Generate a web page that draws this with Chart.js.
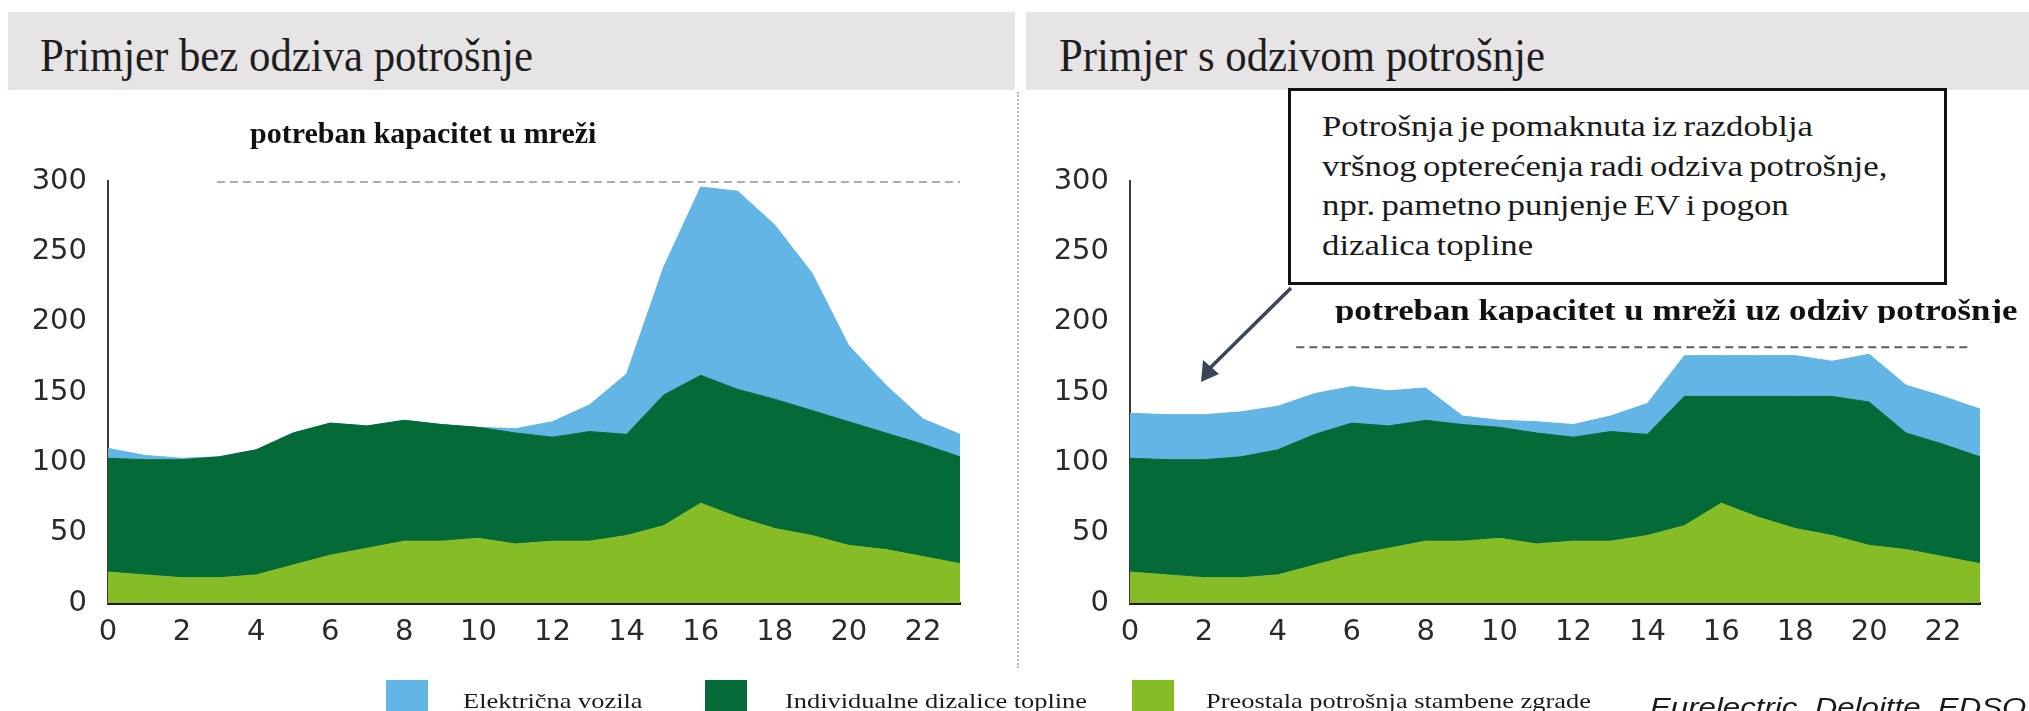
<!DOCTYPE html>
<html>
<head>
<meta charset="utf-8">
<script src="https://cdn.jsdelivr.net/npm/chart.js@4.4.1/dist/chart.umd.min.js"></script>
<style>
  body { margin: 0; width: 2029px; height: 711px; overflow: hidden; background: #fff; position: relative; font-family: "Liberation Serif", "Times New Roman", serif; color: #1a1a1a; }
  .bar { position: absolute; top: 12px; height: 78px; background: #e7e4e5; }
  .title { position: absolute; top: 32px; font-size: 47px; line-height: 47px; white-space: nowrap; color: #1e1e1e; transform: scaleX(0.91); transform-origin: left center; }
  .sep { position: absolute; left: 1017px; top: 92px; height: 576px; border-left: 2px dotted #b9b9b9; }
  canvas { position: absolute; top: 143px; }
  .cap { position: absolute; font-weight: bold; white-space: nowrap; color: #111; }
  .stretch { display: inline-block; transform: scaleX(1.2); transform-origin: left center; }
  .note { position: absolute; left: 1288px; top: 88px; width: 653px; height: 191px; border: 3px solid #111; background: #fff; }
  .note-text { position: absolute; left: 1322px; top: 107px; font-size: 29px; line-height: 39.5px; white-space: nowrap; word-spacing: -2px; }
  .legend-box { position: absolute; top: 680px; width: 42px; height: 40px; }
  .legend-text { position: absolute; top: 690px; font-size: 22px; line-height: 22px; white-space: nowrap; }
  .source { position: absolute; left: 1650px; top: 694px; font-family: "Liberation Sans", Arial, sans-serif; font-style: italic; font-size: 26px; line-height: 26px; white-space: nowrap; }
</style>
</head>
<body>
<div class="bar" style="left:8px; width:1007px;"></div>
<div class="bar" style="left:1026px; width:1003px;"></div>
<div class="title" style="left:40px;">Primjer bez odziva potrošnje</div>
<div class="title" style="left:1059px;">Primjer s odzivom potrošnje</div>
<div class="sep"></div>

<canvas id="chartNoDR" width="1000" height="520" style="left:0px;"></canvas>
<canvas id="chartDR" width="1000" height="520" style="left:1020px;"></canvas>

<div class="cap" style="left:250px; top:118px; font-size:30px; line-height:30px;">potreban kapacitet u mreži</div>
<div class="cap" style="left:1335px; top:296px; width:694px; font-size:29px; line-height:29px; height:27px; overflow:hidden;"><span class="stretch">potreban kapacitet u mreži uz odziv potrošnje</span></div>

<div class="note"></div>
<div class="note-text">
  <span class="stretch">Potrošnja je pomaknuta iz razdoblja</span><br>
  <span class="stretch">vršnog opterećenja radi odziva potrošnje,</span><br>
  <span class="stretch">npr. pametno punjenje EV i pogon</span><br>
  <span class="stretch">dizalica topline</span>
</div>
<svg style="position:absolute; left:0; top:0;" width="2029" height="711">
  <line x1="1291" y1="288" x2="1210" y2="368" stroke="#3a4557" stroke-width="3.5"/>
  <polygon points="1201,382 1203,360 1219,374" fill="#3a4557"/>
</svg>

<div id="legend"></div>
<div class="source"><span class="stretch">Eurelectric, Deloitte, EDSO</span></div>

<script>
const hours = [0, 1, 2, 3, 4, 5, 6, 7, 8, 9, 10, 11, 12, 13, 14, 15, 16, 17, 18, 19, 20, 21, 22, 23];

// Preostala potrošnja stambene zgrade (same in both panels)
const residential = [22, 20, 18, 18, 20, 27, 34, 39, 44, 44, 46, 42, 44, 44, 48, 55, 71, 61, 53, 48, 41, 38, 33, 28];

// bez odziva potrošnje
const heatPumpsNoDR = [81, 82, 84, 86, 89, 94, 94, 87, 86, 83, 79, 79, 74, 78, 72, 93, 91, 91, 92, 89, 88, 83, 80, 76];
const evNoDR = [7, 3, 1, 0, 0, 0, 0, 0, 0, 0, 0, 3, 11, 19, 43, 91, 134, 141, 124, 98, 54, 34, 18, 16];

// s odzivom potrošnje
const heatPumpsDR = [81, 82, 84, 86, 89, 93, 94, 87, 86, 83, 79, 79, 74, 78, 72, 92, 76, 86, 94, 99, 102, 83, 80, 76];
const evDR = [32, 32, 32, 32, 31, 29, 26, 25, 23, 6, 5, 8, 9, 11, 22, 29, 29, 29, 29, 25, 34, 34, 34, 34];

// potreban kapacitet u mreži (dashed lines), hour range + level
const capacityNoDR = [{ x: 2.94, y: 300 }, { x: 23, y: 300 }];
const capacityDR = [{ x: 4.5, y: 182 }, { x: 22.75, y: 182 }];

const yMin = 0, yMax = 300, yStep = 50;
const xTickStep = 2;

const seriesNames = ['Električna vozila', 'Individualne dizalice topline', 'Preostala potrošnja stambene zgrade'];
const seriesColors = ['#62b5e5', '#046a38', '#86bc25'];
const legendBoxX = [386, 705, 1132];
const legendTextX = [463, 785, 1206];

// legend
const legend = document.getElementById('legend');
seriesNames.forEach(function(name, i) {
    const box = document.createElement('div');
    box.className = 'legend-box';
    box.style.left = legendBoxX[i] + 'px';
    box.style.background = seriesColors[i];
    legend.appendChild(box);
    const txt = document.createElement('div');
    txt.className = 'legend-text';
    txt.style.left = legendTextX[i] + 'px';
    txt.innerHTML = '<span class="stretch">' + name + '</span>';
    legend.appendChild(txt);
});

function makeChart(id, heat, ev, capacity, yAxisWidth) {
    const ctx = document.getElementById(id).getContext('2d');
    return new Chart(ctx, {
        type: 'line',
        data: {
            labels: hours,
            datasets: [{
                label: seriesNames[2],
                data: residential,
                backgroundColor: seriesColors[2],
                borderColor: seriesColors[2],
                borderWidth: 1,
                fill: 'origin',
                stack: 'load'
            }, {
                label: seriesNames[1],
                data: heat,
                backgroundColor: seriesColors[1],
                borderColor: seriesColors[1],
                borderWidth: 1,
                fill: '-1',
                stack: 'load'
            }, {
                label: seriesNames[0],
                data: ev,
                backgroundColor: seriesColors[0],
                borderColor: seriesColors[0],
                borderWidth: 1,
                fill: '-1',
                stack: 'load'
            }, {
                label: 'kapacitet',
                data: capacity,
                borderColor: '#5e5e5e',
                borderWidth: 2,
                borderDash: [8, 5],
                fill: false,
                stack: 'cap'
            }]
        },
        options: {
            responsive: false,
            animation: false,
            devicePixelRatio: 1,
            elements: { point: { radius: 0 }, line: { tension: 0 } },
            layout: { padding: { top: 30, right: 40, left: 0, bottom: 0 } },
            plugins: { legend: { display: false }, tooltip: { enabled: false } },
            scales: {
                x: {
                    type: 'linear',
                    min: 0,
                    max: 23,
                    grid: { display: false, drawTicks: false },
                    border: { display: true, color: '#1b1b1b', width: 3 },
                    ticks: {
                        stepSize: xTickStep,
                        includeBounds: false,
                        padding: 12,
                        color: '#2a2a2a',
                        font: { family: 'DejaVu Sans', size: 29 },
                        callback: function(v) { return v % xTickStep === 0 ? v : ''; }
                    },
                    afterFit: function(scale) { scale.height = 60; }
                },
                y: {
                    stacked: true,
                    min: yMin,
                    max: yMax,
                    grid: { display: false, drawTicks: false },
                    border: { display: true, color: '#3a3a3a', width: 2 },
                    ticks: {
                        stepSize: yStep,
                        padding: 21,
                        color: '#2a2a2a',
                        font: { family: 'DejaVu Sans', size: 29 }
                    },
                    afterFit: function(scale) { scale.width = yAxisWidth; }
                }
            }
        }
    });
}

makeChart('chartNoDR', heatPumpsNoDR, evNoDR, capacityNoDR, 108);
makeChart('chartDR', heatPumpsDR, evDR, capacityDR, 110);
</script>
</body>
</html>
